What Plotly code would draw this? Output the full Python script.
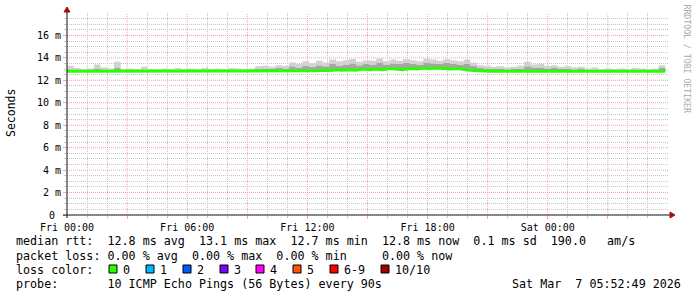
import pandas as pd
import plotly.graph_objects as go

# ---------------- data ----------------
start_time = "2026-03-06 00:00"
end_time = "2026-03-07 05:52"
n_points = 90

median_ms = [
    12.8, 12.8, 12.8, 12.8, 12.8, 12.8, 12.8, 12.8, 12.8, 12.8,
    12.8, 12.8, 12.8, 12.8, 12.8, 12.8, 12.8, 12.8, 12.8, 12.8,
    12.8, 12.8, 12.8, 12.8, 12.8, 12.8, 12.8, 12.8, 12.8, 12.8,
    12.8, 12.8, 12.8, 12.8, 12.8, 12.8, 12.8, 12.85, 12.9, 12.85,
    12.95, 12.9, 12.95, 12.9, 13.0, 12.95, 13.0, 12.95, 13.05, 13.0,
    12.95, 13.05, 13.0, 13.1, 13.05, 13.1, 13.05, 13.0, 13.05, 12.95,
    12.9, 12.85, 12.8, 12.8, 12.8, 12.8, 12.8, 12.8, 12.8, 12.8,
    12.8, 12.8, 12.8, 12.8, 12.8, 12.8, 12.8, 12.8, 12.8, 12.8,
    12.8, 12.8, 12.8, 12.8, 12.8, 12.8, 12.8, 12.8, 12.8, 12.8,
]

smoke_mid_ms = [
    12.95, 12.9, 12.85, 12.9, 13.0, 12.9, 12.85, 13.1, 12.85, 12.9,
    12.85, 12.95, 12.85, 12.85, 12.9, 12.85, 12.9, 12.85, 12.9, 12.85,
    12.9, 12.85, 12.9, 12.85, 12.9, 12.9, 12.85, 12.9, 13.0, 13.05,
    13.0, 13.1, 13.05, 13.25, 13.15, 13.3, 13.2, 13.35, 13.25, 13.45,
    13.3, 13.4, 13.5, 13.35, 13.45, 13.4, 13.55, 13.4, 13.5, 13.45,
    13.55, 13.45, 13.4, 13.55, 13.5, 13.45, 13.55, 13.45, 13.4, 13.45,
    13.3, 13.1, 13.05, 13.0, 13.05, 12.95, 13.0, 13.05, 13.25, 13.15,
    13.15, 13.05, 13.1, 13.0, 13.05, 12.95, 13.0, 12.9, 12.95, 12.85,
    12.9, 12.85, 12.9, 12.85, 12.9, 12.9, 12.85, 12.9, 13.1, 12.9,
]

smoke_max_ms = [
    13.3, 13.1, 13.0, 13.05, 13.4, 13.15, 13.05, 13.65, 13.0, 13.05,
    13.0, 13.2, 13.0, 13.0, 13.05, 13.0, 13.1, 13.0, 13.05, 13.0,
    13.1, 13.0, 13.05, 13.0, 13.1, 13.05, 13.0, 13.05, 13.25, 13.3,
    13.2, 13.35, 13.3, 13.6, 13.45, 13.7, 13.55, 13.75, 13.6, 13.85,
    13.7, 13.8, 13.9, 13.65, 13.8, 13.75, 13.95, 13.7, 13.85, 13.75,
    13.9, 13.8, 13.7, 13.95, 13.85, 13.75, 13.9, 13.8, 13.7, 13.85,
    13.6, 13.35, 13.3, 13.2, 13.25, 13.15, 13.2, 13.3, 13.65, 13.4,
    13.45, 13.3, 13.35, 13.2, 13.25, 13.15, 13.2, 13.05, 13.15, 13.0,
    13.05, 13.0, 13.05, 13.0, 13.1, 13.05, 13.0, 13.05, 13.35, 13.05,
]

# y axis: labelled major ticks every 2 ms, minor grid every 0.5 ms
y_major_vals = [0, 2, 4, 6, 8, 10, 12, 14, 16]
y_major_text = ["0\u00a0", "2 m", "4 m", "6 m", "8 m", "10 m", "12 m", "14 m", "16 m"]
y_minor_vals = [0.5 * k for k in range(36) if k % 4 != 0]

# x axis: labels every 6 h, red grid every 3 h, grey grid every other hour
x_label_vals = ["2026-03-06 00:00", "2026-03-06 06:00", "2026-03-06 12:00",
                "2026-03-06 18:00", "2026-03-07 00:00"]
x_label_text = ["Fri 00:00", "Fri 06:00", "Fri 12:00", "Fri 18:00", "Sat 00:00"]
x_major_vals = list(pd.date_range("2026-03-06 03:00", "2026-03-07 03:00", freq="3h"))
x_minor_vals = [t for t in pd.date_range("2026-03-06 00:00", "2026-03-07 05:00", freq="1h")
                if t.hour % 3 != 0]

loss_labels = ["0", "1", "2", "3", "4", "5", "6-9", "10/10"]
loss_colors = ["#26ff00", "#00b8ff", "#0059ff", "#7e00ff", "#ff00ff",
               "#ff5500", "#ff0000", "#a10000"]

legend_line1 = "median rtt:  12.8 ms avg  13.1 ms max  12.7 ms min  12.8 ms now  0.1 ms sd  190.0   am/s"
legend_line2 = "packet loss: 0.00 % avg  0.00 % max  0.00 % min     0.00 % now"
legend_line3 = "loss color:"
legend_line4 = "probe:       10 ICMP Echo Pings (56 Bytes) every 90s"
timestamp_text = "Sat Mar  7 05:52:49 2026"

# ---------------- geometry ----------------
W, H = 697, 297
L, R, T, B = 67, 668, 13, 215
PW, PH = R - L, B - T
FONT = "DejaVu Sans Mono"


def px(xp):
    return (xp - L) / PW


def py(yp):
    return (B - yp) / PH


times = pd.date_range(start_time, end_time, periods=n_points)
X_RANGE = ["2026-03-06 00:00", "2026-03-07 06:00"]

grid_grey = "#c6c6c6"
grid_red = "#f2a4a4"
dots = "1px,1px"

fig = go.Figure()
# red major grid lines, drawn as dotted line traces on the chart's own axes
for t in x_major_vals:
    fig.add_trace(go.Scatter(x=[t, t], y=[0, 18], mode="lines",
                             line=dict(color=grid_red, width=1, dash=dots),
                             showlegend=False, hoverinfo="skip"))
for v in y_major_vals[1:]:
    fig.add_trace(go.Scatter(x=X_RANGE, y=[v, v], mode="lines",
                             line=dict(color=grid_red, width=1, dash=dots),
                             showlegend=False, hoverinfo="skip"))

fig.add_trace(go.Scatter(x=times, y=median_ms, mode="lines",
                         line=dict(width=0, shape="hv", color="rgba(0,0,0,0)"),
                         showlegend=False, hoverinfo="skip"))
fig.add_trace(go.Scatter(x=times, y=smoke_mid_ms, mode="lines", fill="tonexty",
                         fillcolor="#a6a6a6",
                         line=dict(width=0, shape="hv", color="rgba(0,0,0,0)"),
                         showlegend=False, hoverinfo="skip"))
fig.add_trace(go.Scatter(x=times, y=smoke_max_ms, mode="lines", fill="tonexty",
                         fillcolor="#d2d2d2",
                         line=dict(width=0, shape="hv", color="rgba(0,0,0,0)"),
                         showlegend=False, hoverinfo="skip"))
fig.add_trace(go.Scatter(x=times, y=median_ms, mode="lines",
                         line=dict(width=3, color="#26ff00"),
                         showlegend=False))
# anchor for label-only overlay axis
fig.add_trace(go.Scatter(x=[X_RANGE[0]], y=[0], xaxis="x2", yaxis="y",
                         mode="markers", marker=dict(opacity=0, size=1),
                         showlegend=False, hoverinfo="skip"))

fig.update_layout(
    width=W, height=H, autosize=False,
    margin=dict(l=L, r=W - R, t=T, b=H - B, pad=0),
    paper_bgcolor="white", plot_bgcolor="white",
    font=dict(family=FONT, size=10, color="#000"),
    showlegend=False,
    xaxis=dict(
        type="date", range=X_RANGE,
        tickmode="array", tickvals=x_minor_vals, ticktext=[""] * len(x_minor_vals),
        showgrid=True, gridcolor=grid_grey, griddash=dots, gridwidth=1,
        ticks="outside", ticklen=2, tickcolor=grid_grey,
        showline=False, zeroline=False, fixedrange=True,
    ),
    yaxis=dict(
        range=[0, 18],
        tickmode="array", tickvals=y_major_vals, ticktext=y_major_text,
        showgrid=False,
        ticks="outside", ticklen=3, tickcolor=grid_red,
        tickfont=dict(family=FONT, size=10, color="#000"),
        minor=dict(tickmode="array", tickvals=y_minor_vals, showgrid=True,
                   gridcolor=grid_grey, griddash=dots, gridwidth=1,
                   ticks="outside", ticklen=2, tickcolor=grid_grey),
        showline=False, zeroline=False, fixedrange=True,
    ),
    xaxis2=dict(
        type="date", range=X_RANGE, overlaying="x", anchor="y", side="bottom",
        tickmode="array", tickvals=x_major_vals, ticktext=[""] * len(x_major_vals),
        showgrid=False, ticks="outside", ticklen=3, tickcolor=grid_red,
        showticklabels=False,
        showline=False, zeroline=False, fixedrange=True,
    ),
    xaxis3=dict(
        type="date", range=X_RANGE, overlaying="x", anchor="y", side="bottom",
        tickmode="array", tickvals=x_label_vals, ticktext=x_label_text,
        showgrid=False, ticks="", ticklabelstandoff=5,
        tickfont=dict(family=FONT, size=10, color="#000"),
        showline=False, zeroline=False, fixedrange=True,
    ),
)
fig.add_trace(go.Scatter(x=[X_RANGE[0]], y=[0], xaxis="x3", yaxis="y",
                         mode="markers", marker=dict(opacity=0, size=1),
                         showlegend=False, hoverinfo="skip"))

shapes = []
# axis lines
shapes.append(dict(type="line", xref="paper", yref="paper",
                   x0=px(63), x1=px(671), y0=py(215), y1=py(215),
                   line=dict(color="#111", width=1)))
shapes.append(dict(type="line", xref="paper", yref="paper",
                   x0=px(67), x1=px(67), y0=py(218), y1=py(11),
                   line=dict(color="#111", width=1)))
# arrows
shapes.append(dict(type="path", xref="paper", yref="paper",
                   path=f"M {px(670)} {py(212)} L {px(675)} {py(215)} L {px(670)} {py(218)} Z",
                   fillcolor="#a11010", line=dict(color="#a11010", width=1)))
shapes.append(dict(type="path", xref="paper", yref="paper",
                   path=f"M {px(64)} {py(12)} L {px(67)} {py(7)} L {px(70)} {py(12)} Z",
                   fillcolor="#a11010", line=dict(color="#a11010", width=1)))

annotations = []
LF = 11.7


def text_ann(txt, x, y, size=LF, anchor="left", color="#000", angle=0, yanchor="middle"):
    annotations.append(dict(text=txt, xref="paper", yref="paper", x=px(x), y=py(y),
                            xanchor=anchor, yanchor=yanchor, showarrow=False,
                            borderpad=0, borderwidth=0, textangle=angle,
                            font=dict(family=FONT, size=size, color=color)))


text_ann(legend_line1, 16, 241.5)
text_ann(legend_line2, 16, 255.5)
text_ann(legend_line3, 16, 269.5)
text_ann(legend_line4, 16, 283.5)
text_ann(timestamp_text, 681, 283.5, anchor="right")

swatch_lefts = [109, 146, 183, 220, 256, 293, 330, 381]
for lab, col, sx in zip(loss_labels, loss_colors, swatch_lefts):
    shapes.append(dict(type="rect", xref="paper", yref="paper",
                       x0=px(sx), x1=px(sx + 8), y0=py(273), y1=py(265),
                       fillcolor=col, line=dict(color="#000", width=1)))
    text_ann(lab, sx + 14, 269.5)

text_ann("Seconds", 11, 113, size=11.5, anchor="center", angle=-90)
text_ann("RRDTOOL / TOBI OETIKER", 686.5, 59, size=8.2, anchor="center",
         color="#aaaaaa", angle=90)

fig.update_layout(shapes=shapes, annotations=annotations)

fig.write_html("out.html", config={"displayModeBar": False})
